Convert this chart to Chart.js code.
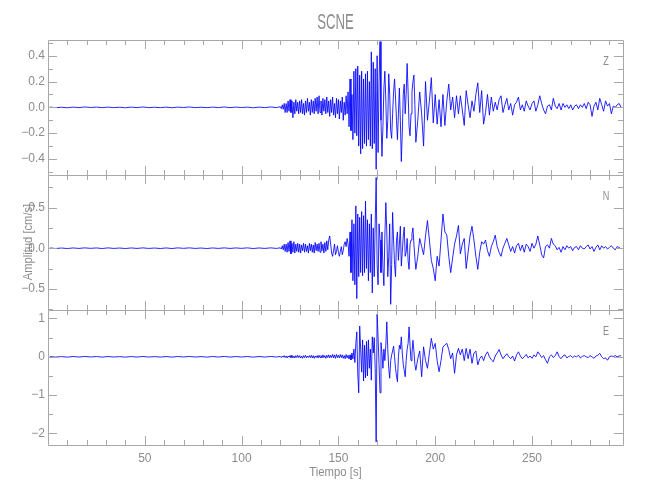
<!DOCTYPE html>
<html>
<head>
<meta charset="utf-8">
<title>SCNE</title>
<script src="https://cdn.jsdelivr.net/npm/chart.js"></script>
<style>
  html, body { margin: 0; padding: 0; background: #fff; }
  #cont { position: relative; width: 650px; height: 500px; }
  #cont canvas { position: absolute; left: 0; top: 0; }
</style>
</head>
<body>
<div id="cont">
  <canvas id="panelZ" width="650" height="500"></canvas>
  <canvas id="panelN" width="650" height="500"></canvas>
  <canvas id="panelE" width="650" height="500"></canvas>
</div>
<script>
// eje de tiempo
const marcasTiempo = [10, 20, 30, 40, 50, 60, 70, 80, 90, 100, 110, 120, 130, 140, 150,
  160, 170, 180, 190, 200, 210, 220, 230, 240, 250, 260, 270, 280, 290];
const etiquetasTiempo = [50, 100, 150, 200, 250];

// ejes de amplitud
const marcasZ = [-0.5, -0.4, -0.3, -0.2, -0.1, 0, 0.1, 0.2, 0.3, 0.4, 0.5];
const etiquetasZ = [-0.4, -0.2, 0, 0.2, 0.4];
const marcasN = [-0.75, -0.5, -0.25, 0, 0.25, 0.5, 0.75];
const etiquetasN = [-0.5, 0, 0.5];
const marcasE = [-2, -1.5, -1, -0.5, 0, 0.5, 1];
const etiquetasE = [-2, -1, 0, 1];

// muestreo: 1..118 s cada 3 s, 120..189.5 s cada 0.5 s, 190..296 s cada 1 s
const tiempo = [];
for (let i = 0; i < 40; i++) tiempo.push(1 + 3 * i);
for (let i = 0; i < 140; i++) tiempo.push(120 + 0.5 * i);
for (let i = 0; i < 107; i++) tiempo.push(190 + i);

// componente Z (cm/s)
const zRuido = [0.002,-0.002,0.001,-0.003,0.002,-0.002,0.003,-0.001,0.002,-0.002,
  0.002,-0.002,0.001,-0.003,0.002,-0.002,0.003,-0.002,0.001,-0.002,
  0.002,-0.003,0.002,-0.001,0.003,-0.002,0.001,-0.002,0.002,-0.002,
  0.003,-0.002,0.002,-0.001,0.002,-0.003,0.002,-0.002,0.003,-0.002];
const zFuerte = [0.005,-0.01,0.02,-0.015,0.03,-0.04,0.03,-0.04,0.05,-0.03,
  0.06,-0.04,0.05,-0.08,0.04,-0.05,0.06,-0.03,0.04,-0.05,
  0.05,-0.04,0.06,-0.05,0.03,-0.06,0.05,-0.04,0.07,-0.03,
  0.04,-0.06,0.06,-0.04,0.05,-0.05,0.07,-0.03,0.08,-0.05,
  0.09,-0.04,0.05,-0.06,0.07,-0.03,0.06,-0.05,0.08,-0.04,
  0.05,-0.07,0.06,-0.04,0.08,-0.06,0.03,-0.08,0.07,-0.05,
  0.06,-0.09,0.05,-0.04,0.08,-0.1,0.04,-0.06,0.09,-0.05,
  0.12,-0.15,0.22,-0.18,0.1,-0.25,0.28,-0.2,0.3,-0.22,
  0.32,-0.3,0.25,-0.36,0.28,-0.32,0.22,-0.28,0.26,-0.3,
  0.28,-0.25,0.2,-0.3,0.43,-0.32,0.35,-0.28,0.3,-0.48,
  0.4,-0.35,0.2,0.51,-0.1,-0.38,-0.15,0.15,0.28,0.05,
  -0.24,-0.1,0.26,0.1,-0.18,-0.24,-0.05,0.12,0.22,0.08,
  -0.1,-0.25,-0.05,0.15,-0.1,-0.42,-0.2,0.1,0.18,-0.05,
  0.1,0.34,0.12,-0.15,-0.22,-0.05,0.12,0.2,0.25,0.02];
const zCoda = [-0.27,-0.1,0.12,-0.05,-0.3,0.2,-0.1,0.05,0.23,-0.12,
  0.1,-0.13,0.06,-0.15,0.1,-0.14,0.05,0.18,-0.02,0.08,
  -0.08,0.09,-0.05,0.09,-0.02,-0.14,0.13,0.02,-0.08,0.05,
  -0.03,0.1,0.19,-0.04,0.13,-0.13,-0.04,0.1,-0.06,0.08,
  -0.03,0.04,-0.02,0.06,0.09,-0.04,0.02,0.07,-0.02,0.03,
  -0.06,0.02,0.04,0.08,-0.02,0.02,-0.03,0.05,0.01,-0.02,
  0.03,0.05,-0.03,0.02,0.09,0.03,-0.02,-0.05,0.01,0.02,
  -0.02,0.07,0.01,-0.01,0.03,-0.02,0.03,0.0,0.02,-0.01,
  0.02,-0.02,0.01,0.02,-0.01,0.02,0.0,0.03,-0.01,0.04,
  0.02,-0.07,0.01,0.04,-0.02,0.07,0.02,-0.03,0.05,0.01,
  0.03,-0.05,0.01,0.0,0.02,0.03,0.0];

// componente N (cm/s)
const nRuido = [0.003,-0.004,0.002,-0.004,0.003,-0.003,0.004,-0.002,0.003,-0.004,
  0.004,-0.003,0.002,-0.004,0.003,-0.003,0.004,-0.003,0.002,-0.004,
  0.003,-0.004,0.004,-0.002,0.004,-0.003,0.002,-0.004,0.003,-0.003,
  0.004,-0.003,0.003,-0.002,0.004,-0.004,0.003,-0.003,0.004,-0.003];
const nFuerte = [0.005,-0.01,0.03,-0.02,0.05,-0.04,0.05,-0.05,0.07,-0.04,
  0.09,-0.07,0.06,-0.05,0.08,-0.06,0.05,-0.04,0.06,-0.05,
  0.05,-0.06,0.04,-0.03,0.06,-0.05,0.05,-0.04,0.03,-0.06,
  0.06,-0.03,0.05,-0.05,0.04,-0.06,0.07,-0.03,0.05,-0.04,
  0.06,-0.05,0.08,-0.03,0.05,-0.06,0.07,-0.04,0.09,-0.02,
  0.1,0.15,0.05,-0.06,-0.1,-0.03,0.05,-0.08,-0.04,0.03,
  -0.05,-0.1,-0.04,0.02,-0.08,-0.03,0.05,0.08,0.02,0.12,
  0.05,-0.1,0.2,-0.3,0.35,-0.4,0.3,-0.45,0.52,-0.62,
  0.42,-0.35,0.38,-0.3,0.45,-0.34,0.4,-0.3,0.58,-0.25,
  0.35,-0.4,0.3,-0.3,0.42,-0.55,0.25,-0.35,0.3,0.87,
  -0.2,-0.45,0.3,0.1,-0.3,0.2,-0.25,-0.46,0.15,0.56,
  0.2,-0.35,-0.1,0.3,-0.69,-0.2,0.44,0.1,-0.2,-0.35,
  0.1,0.2,-0.15,0.05,0.27,-0.22,-0.05,0.15,0.26,-0.1,
  -0.05,0.12,-0.15,-0.26,0.05,0.1,0.18,0.25,0.05,-0.12];
const nCoda = [-0.26,-0.1,0.12,0.02,-0.08,0.15,0.34,0.1,-0.15,-0.25,
  -0.4,-0.1,-0.22,0.1,0.42,0.2,0.16,-0.1,-0.3,-0.12,
  0.05,0.15,0.28,-0.07,0.05,0.12,-0.25,-0.05,0.15,0.27,
  0.1,-0.1,-0.26,-0.05,0.08,0.05,0.1,-0.03,-0.1,0.02,
  0.08,0.16,0.02,-0.05,-0.1,0.0,0.06,0.12,0.04,-0.04,
  0.02,-0.06,0.03,0.06,-0.03,0.04,-0.05,0.05,0.02,-0.04,
  0.06,0.0,0.05,0.15,0.04,-0.08,-0.12,0.02,0.04,0.0,
  0.12,0.05,0.03,-0.02,0.01,-0.05,0.02,-0.02,0.03,0.0,
  0.02,-0.03,0.01,0.02,-0.02,0.03,0.0,-0.01,0.02,0.04,
  -0.01,0.02,-0.04,0.01,0.04,-0.02,0.03,0.0,0.02,-0.01,
  0.01,0.03,0.0,-0.02,0.02,0.01,-0.01];

// componente E (cm/s)
const eRuido = [0.006,-0.008,0.005,-0.009,0.007,-0.006,0.008,-0.005,0.006,-0.008,
  0.007,-0.006,0.005,-0.009,0.006,-0.007,0.008,-0.006,0.005,-0.007,
  0.006,-0.008,0.007,-0.005,0.009,-0.006,0.005,-0.008,0.007,-0.006,
  0.008,-0.007,0.006,-0.005,0.007,-0.009,0.006,-0.007,0.008,-0.006];
const eFuerte = [0.01,-0.02,0.02,-0.01,0.03,-0.02,0.02,-0.03,0.02,-0.01,
  0.03,-0.02,0.04,-0.03,0.02,-0.03,0.03,-0.02,0.04,-0.02,
  0.03,-0.03,0.02,-0.04,0.03,-0.02,0.04,-0.03,0.02,-0.02,
  0.03,-0.02,0.04,-0.03,0.03,-0.04,0.02,-0.02,0.03,-0.03,
  0.04,-0.02,0.03,-0.03,0.05,-0.02,0.03,-0.04,0.04,-0.02,
  0.05,-0.03,0.04,-0.02,0.06,-0.03,0.05,-0.04,0.06,-0.02,
  0.04,-0.03,0.06,-0.02,0.05,-0.04,0.03,-0.05,0.06,-0.03,
  0.04,-0.06,0.05,-0.08,0.1,-0.06,0.2,-0.15,0.35,0.65,
  -0.43,-0.94,0.8,0.2,-0.4,0.44,-0.63,0.3,-0.55,0.4,
  -0.5,0.44,-0.3,0.2,-0.61,0.52,0.1,0.5,-0.3,-2.22,
  1.11,0.5,-0.2,-0.94,0.37,0.1,-0.3,0.2,-0.1,0.3,
  0.91,0.2,-0.3,-0.56,-0.1,0.05,0.15,0.28,0.0,-0.3,
  -0.5,-0.65,0.0,0.3,0.2,0.52,0.1,-0.2,-0.35,-0.52,
  -0.1,0.2,0.35,0.78,0.3,-0.1,0.1,0.43,0.15,-0.2];
const eCoda = [-0.35,-0.05,0.15,-0.52,0.26,-0.1,-0.3,0.1,0.48,0.2,
  0.35,-0.1,-0.39,-0.1,0.25,0.31,0.35,0.19,-0.05,0.1,
  -0.43,0.05,0.22,0.05,0.2,-0.1,0.22,-0.05,0.2,-0.17,
  0.1,0.15,-0.21,-0.05,0.02,-0.1,0.05,0.13,0.0,-0.08,
  -0.13,0.02,0.1,0.19,0.05,-0.05,0.02,0.08,0.0,-0.05,
  0.02,-0.11,0.05,0.13,0.02,-0.05,0.0,0.06,-0.03,0.02,
  -0.04,0.05,0.0,0.13,0.06,-0.02,0.03,-0.08,-0.17,0.0,
  0.05,-0.02,0.03,0.13,0.0,-0.05,0.02,0.05,-0.03,0.01,
  0.03,-0.02,0.02,0.0,0.04,-0.03,0.01,0.03,0.0,-0.02,
  0.03,0.0,-0.04,0.02,0.04,0.09,0.0,-0.05,-0.03,-0.09,
  0.0,0.02,0.01,0.03,0.0,0.02,0.03];

const GRIS = '#a8a8a8';
const TEXTO = '#8c8c8c';
const FUENTE = "'Liberation Sans Narrow', 'Liberation Sans', sans-serif";

function esMarca(lista, v) {
  return lista.some(m => Math.abs(m - v) < 1e-6);
}

function formato(v, dec) {
  return v.toFixed(dec).replace('-', '\u2212');
}

// texto estrecho, como la fuente de trazo del original
function texto(ctx, txt, x, y, size, sx, rot) {
  ctx.save();
  ctx.translate(x, y);
  if (rot) ctx.rotate(rot);
  ctx.scale(sx, 1);
  ctx.font = size + "px 'Liberation Sans', sans-serif";
  ctx.fillStyle = TEXTO;
  ctx.textAlign = 'center';
  ctx.textBaseline = 'middle';
  ctx.fillText(txt, 0, 0);
  ctx.restore();
}

// marco con marcas hacia dentro y letra de la componente
const marcoPlugin = {
  id: 'marco',
  afterDatasetsDraw(chart, args, opts) {
    const { ctx, chartArea: a } = chart;
    const x = chart.scales.x, y = chart.scales.y;
    ctx.save();
    ctx.strokeStyle = GRIS;
    ctx.lineWidth = 1;
    ctx.beginPath();
    ctx.rect(Math.round(a.left) + 0.5, Math.round(a.top) + 0.5, Math.round(a.width), Math.round(a.height));
    marcasTiempo.forEach(t => {
      const px = Math.round(x.getPixelForValue(t)) + 0.5;
      const l = t % 50 === 0 ? 9 : 5;
      ctx.moveTo(px, a.top); ctx.lineTo(px, a.top + l);
      ctx.moveTo(px, a.bottom); ctx.lineTo(px, a.bottom - l);
    });
    opts.marcas.forEach(v => {
      const py = Math.round(y.getPixelForValue(v)) + 0.5;
      const l = esMarca(opts.etiquetas, v) ? 9 : 5;
      ctx.moveTo(a.left, py); ctx.lineTo(a.left + l, py);
      ctx.moveTo(a.right, py); ctx.lineTo(a.right - l, py);
    });
    ctx.stroke();
    ctx.restore();
    texto(ctx, opts.letra, a.right - 17, a.top + 21, 13, 0.7, 0);
    if (opts.rotulos) {
      texto(ctx, 'SCNE', (a.left + a.right) / 2, 22.5, 22, 0.6, 0);
      texto(ctx, 'Amplitud [cm/s]', 28.5, 242, 13, 0.86, -Math.PI / 2);
      texto(ctx, 'Tiempo [s]', (a.left + a.right) / 2, 472, 13, 0.87, 0);
    }
  }
};

function crearPanel(id, valores, eje, padding, conEjeX) {
  const datos = tiempo.map((t, i) => ({ x: t, y: valores[i] }));
  return new Chart(document.getElementById(id), {
    type: 'line',
    data: {
      datasets: [{
        data: datos,
        borderColor: 'rgb(0, 0, 255)',
        borderWidth: 0.85,
        borderJoinStyle: 'round',
        pointRadius: 0,
        tension: 0,
        fill: false
      }]
    },
    options: {
      responsive: false,
      animation: false,
      devicePixelRatio: 1,
      layout: { padding: padding },
      plugins: {
        legend: { display: false },
        tooltip: { enabled: false },
        title: { display: false },
        marco: { marcas: eje.marcas, etiquetas: eje.etiquetas, letra: eje.letra, rotulos: conEjeX }
      },
      scales: {
        x: {
          type: 'linear',
          min: 0,
          max: 297,
          display: conEjeX,
          grid: { display: false, drawTicks: false },
          border: { display: false },
          afterBuildTicks: s => { s.ticks = marcasTiempo.map(v => ({ value: v })); },
          afterFit: s => { s.height = conEjeX ? 55 : 0; },
          ticks: {
            autoSkip: false,
            maxRotation: 0,
            padding: 6,
            color: TEXTO,
            font: { family: FUENTE, size: 12 },
            callback: v => etiquetasTiempo.includes(v) ? String(v) : ''
          }
        },
        y: {
          min: eje.min,
          max: eje.max,
          grid: { display: false, drawTicks: false },
          border: { display: false },
          afterBuildTicks: s => { s.ticks = eje.marcas.map(v => ({ value: v })); },
          afterFit: s => { s.width = 48; },
          ticks: {
            autoSkip: false,
            padding: 3,
            color: TEXTO,
            font: { family: FUENTE, size: 12 },
            callback: v => esMarca(eje.etiquetas, v) ? formato(v, eje.decimales) : ''
          }
        }
      }
    },
    plugins: [marcoPlugin]
  });
}

crearPanel('panelZ', zRuido.concat(zFuerte, zCoda),
  { min: -0.524, max: 0.522, marcas: marcasZ, etiquetas: etiquetasZ, decimales: 1, letra: 'Z' },
  { top: 40, bottom: 325, left: 0, right: 27 }, false);
crearPanel('panelN', nRuido.concat(nFuerte, nCoda),
  { min: -0.76, max: 0.90, marcas: marcasN, etiquetas: etiquetasN, decimales: 1, letra: 'N' },
  { top: 175, bottom: 190, left: 0, right: 27 }, false);
crearPanel('panelE', eRuido.concat(eFuerte, eCoda),
  { min: -2.30, max: 1.22, marcas: marcasE, etiquetas: etiquetasE, decimales: 0, letra: 'E' },
  { top: 310, bottom: 0, left: 0, right: 27 }, true);
</script>
</body>
</html>
